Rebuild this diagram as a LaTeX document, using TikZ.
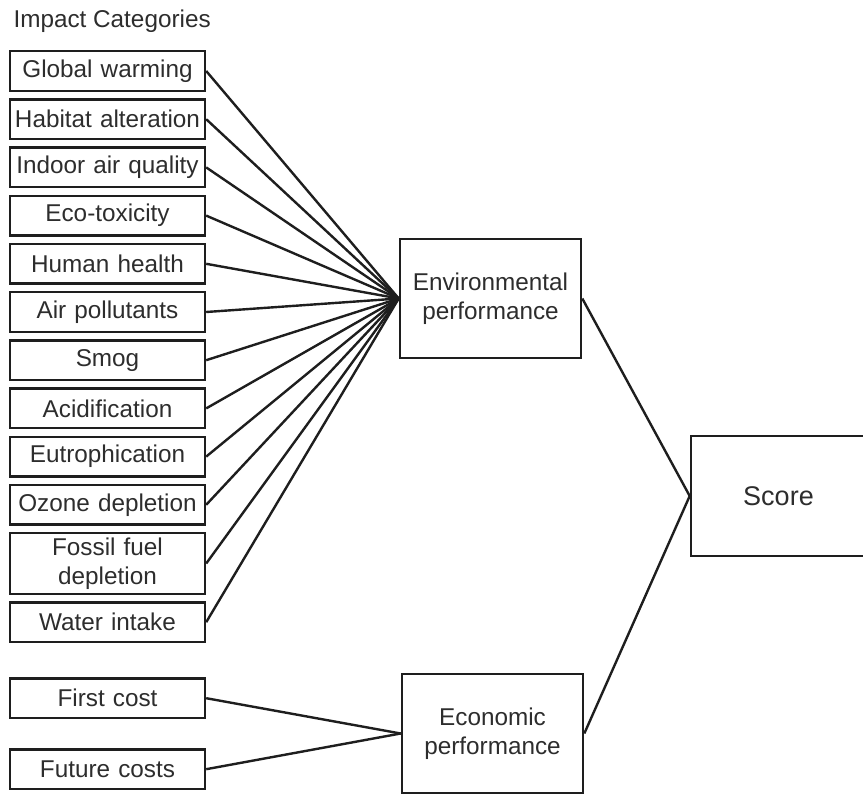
\documentclass[tikz,border=0pt]{standalone}
\usepackage{fontspec}
\setmainfont{Liberation Sans}
\usepackage{tikz}
\usetikzlibrary{positioning}
\definecolor{boxLine}{RGB}{30,30,30}
\definecolor{boxText}{RGB}{45,45,45}

\begin{document}
\begin{tikzpicture}[
  x=1pt, y=-1pt,
  font=\fontsize{24.3}{29}\selectfont,
  node distance=6.2pt,
  category/.style={
    draw=boxLine,
    line width=2.4pt,
    text=boxText,
    minimum width=195pt,
    minimum height=39.6pt,
    text width=192pt,
    inner sep=0pt,
    align=center
  },
  result/.style={
    draw=boxLine,
    line width=2.6pt,
    text=boxText,
    minimum width=181pt,
    minimum height=119pt,
    text width=175pt,
    inner sep=0pt,
    align=center
  },
  link/.style={line width=2.4pt, boxLine}
]
\useasboundingbox (0,0) rectangle (863,795);

\node[anchor=west, text=boxText] (title) at (10,21) {Impact Categories};

% environmental impact categories
\node[category] (warming) at (107.5,71) {Global warming};
\node[category, below=of warming] (habitat) {Habitat alteration};
\node[category, below=of habitat] (indoor) {Indoor air quality};
\node[category, below=of indoor] (ecotox) {Eco-toxicity};
\node[category, below=of ecotox] (health) {Human health};
\node[category, below=of health] (airpol) {Air pollutants};
\node[category, below=of airpol] (smog) {Smog};
\node[category, below=of smog] (acid) {Acidification};
\node[category, below=of acid] (eutro) {Eutrophication};
\node[category, below=of eutro] (ozone) {Ozone depletion};
\node[category, below=of ozone, minimum height=60.6pt] (fossil)
  {Fossil fuel\\depletion};
\node[category, below=of fossil] (water) {Water intake};

% economic categories
\node[category, below=34pt of water] (firstcost) {First cost};
\node[category, below=29pt of firstcost] (futurecost) {Future costs};

\node[result] (env) at (490.5,298.5) {Environmental\\performance};
\node[result] (econ) at (492.5,733.5) {Economic\\performance};
\node[result, minimum width=175pt, minimum height=120pt,
  font=\fontsize{27}{32}\selectfont] (score) at (778.5,496) {Score};

\draw[link] (warming.east) -- (env.west);
\draw[link] (habitat.east) -- (env.west);
\draw[link] (indoor.east) -- (env.west);
\draw[link] (ecotox.east) -- (env.west);
\draw[link] (health.east) -- (env.west);
\draw[link] (airpol.east) -- (env.west);
\draw[link] (smog.east) -- (env.west);
\draw[link] (acid.east) -- (env.west);
\draw[link] (eutro.east) -- (env.west);
\draw[link] (ozone.east) -- (env.west);
\draw[link] (fossil.east) -- (env.west);
\draw[link] (water.east) -- (env.west);

\draw[link] (firstcost.east) -- (econ.west);
\draw[link] (futurecost.east) -- (econ.west);

\draw[link] (env.east) -- (score.west);
\draw[link] (econ.east) -- (score.west);

\end{tikzpicture}
\end{document}
